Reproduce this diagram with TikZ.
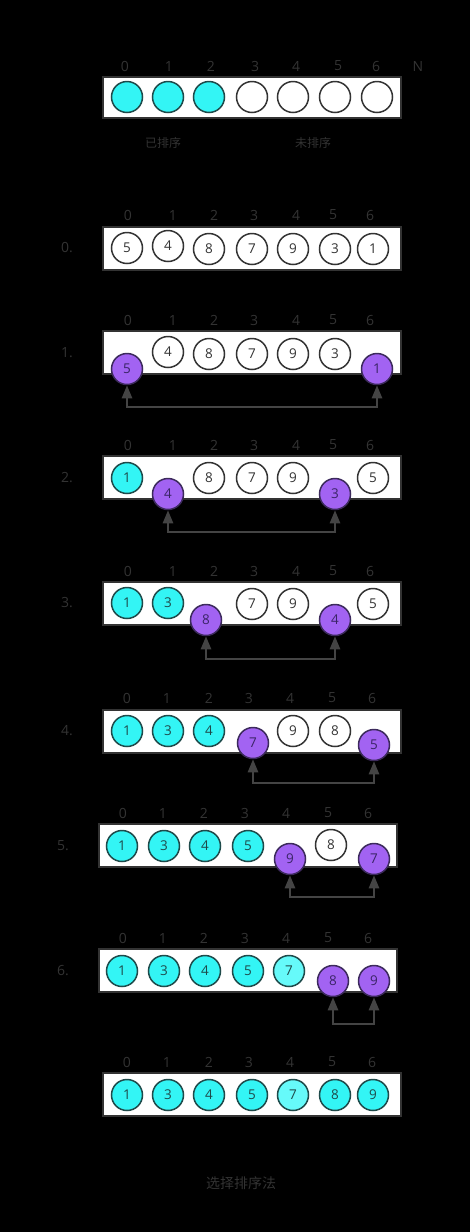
\documentclass[tikz,border=0pt]{standalone}
\usepackage{fontspec}
\setmainfont{Open Sans}
\newfontfamily\cjk{Noto Sans CJK SC}
\usetikzlibrary{arrows.meta}
\definecolor{lblgray}{HTML}{333333}
\definecolor{boxline}{HTML}{333333}
\definecolor{cyanf}{HTML}{33F5F5}
\definecolor{cyanl}{HTML}{66FAFA}
\definecolor{cyand}{HTML}{1E4A4A}
\definecolor{purf}{HTML}{A263F2}
\definecolor{purd}{HTML}{3C2A5C}
\definecolor{purt}{HTML}{3A2466}
\definecolor{arrowc}{HTML}{444444}
\tikzset{
  idx/.style={text=lblgray,font=\fontsize{14}{16}\selectfont,inner sep=0pt},
  rowlbl/.style={text=lblgray,font=\fontsize{14}{16}\selectfont,inner sep=0pt},
  arr/.style={draw=boxline,fill=white,line width=1.6pt},
  cell/.style={circle,minimum size=31pt,inner sep=0pt,line width=1.5pt,font=\fontsize{13.5}{15}\selectfont},
  cellw/.style={cell,draw=boxline,fill=white,text=lblgray},
  cellc/.style={cell,draw=cyand,fill=cyanf,text=cyand},
  celll/.style={cell,draw=cyand,fill=cyanl,text=cyand},
  cellp/.style={cell,draw=purd,fill=purf,text=purt},
  swap/.style={draw=arrowc,line width=2.4pt,{Triangle[width=10pt,length=13pt]}-{Triangle[width=10pt,length=13pt]}},
}
\begin{document}
\begin{tikzpicture}[x=1pt,y=-1pt]
\fill[black] (0,0) rectangle (470,1232);
\useasboundingbox (0,0) rectangle (470,1232);

% legend
\foreach \i/\x in {0/125,1/169,2/211,3/255,4/296,5/338,6/376} \node[idx] (lgi\i) at (\x,66) {\i};
\node[idx] (lgN) at (418,66) {N};
\draw[arr] (103,77) rectangle (401,118);
\foreach \i/\x/\s in {0/127/cellc,1/168/cellc,2/209/cellc,3/252/cellw,4/293/cellw,5/335/cellw,6/377/cellw}
  \node[\s] (lgc\i) at (\x,97) {};
\node[text=lblgray,font=\cjk\fontsize{12}{14}\selectfont] (sorted) at (163,143) {已排序};
\node[text=lblgray,font=\cjk\fontsize{12}{14}\selectfont] (unsorted) at (313,143) {未排序};

% row 0
\node[rowlbl] (rl0) at (67,248) {0.};
\foreach \i/\x in {0/128,1/173,2/214,3/254,4/296,5/333,6/370} \node[idx] (r0i\i) at (\x,215) {\i};
\draw[arr] (103,227) rectangle (401,270);
\foreach \i/\x/\y/\v/\s in {0/127/248/5/cellw,1/168/246/4/cellw,2/209/249/8/cellw,3/252/249/7/cellw,4/293/249/9/cellw,5/335/249/3/cellw,6/373/249/1/cellw}
  \node[\s] (r0c\i) at (\x,\y) {\v};

% row 1
\node[rowlbl] (rl1) at (67,353) {1.};
\foreach \i/\x in {0/128,1/173,2/214,3/254,4/296,5/333,6/370} \node[idx] (r1i\i) at (\x,320) {\i};
\draw[arr] (103,331) rectangle (401,374);
\foreach \i/\x/\y/\v/\s in {0/127/369/5/cellp,1/168/352/4/cellw,2/209/354/8/cellw,3/252/354/7/cellw,4/293/354/9/cellw,5/335/354/3/cellw,6/377/369/1/cellp}
  \node[\s] (r1c\i) at (\x,\y) {\v};
\coordinate (r1l) at (0,407);
\draw[swap] (r1c0.south) -- (r1c0.south |- r1l) -- (r1c6.south |- r1l) -- (r1c6.south);

% row 2
\node[rowlbl] (rl2) at (67,478) {2.};
\foreach \i/\x in {0/128,1/173,2/214,3/254,4/296,5/333,6/370} \node[idx] (r2i\i) at (\x,445) {\i};
\draw[arr] (103,456) rectangle (401,499);
\foreach \i/\x/\y/\v/\s in {0/127/478/1/cellc,1/168/494/4/cellp,2/209/478/8/cellw,3/252/478/7/cellw,4/293/478/9/cellw,5/335/494/3/cellp,6/373/478/5/cellw}
  \node[\s] (r2c\i) at (\x,\y) {\v};
\coordinate (r2l) at (0,532);
\draw[swap] (r2c1.south) -- (r2c1.south |- r2l) -- (r2c5.south |- r2l) -- (r2c5.south);

% row 3
\node[rowlbl] (rl3) at (67,603) {3.};
\foreach \i/\x in {0/128,1/173,2/214,3/254,4/296,5/333,6/370} \node[idx] (r3i\i) at (\x,571) {\i};
\draw[arr] (103,582) rectangle (401,625);
\foreach \i/\x/\y/\v/\s in {0/127/603/1/cellc,1/168/603/3/cellc,2/206/620/8/cellp,3/252/604/7/cellw,4/293/604/9/cellw,5/335/620/4/cellp,6/373/604/5/cellw}
  \node[\s] (r3c\i) at (\x,\y) {\v};
\coordinate (r3l) at (0,659);
\draw[swap] (r3c2.south) -- (r3c2.south |- r3l) -- (r3c5.south |- r3l) -- (r3c5.south);

% row 4
\node[rowlbl] (rl4) at (67,731) {4.};
\foreach \i/\x in {0/127,1/167,2/209,3/249,4/290,5/332,6/372} \node[idx] (r4i\i) at (\x,698) {\i};
\draw[arr] (103,710) rectangle (401,753);
\foreach \i/\x/\y/\v/\s in {0/127/731/1/cellc,1/168/731/3/cellc,2/209/731/4/cellc,3/253/743/7/cellp,4/293/731/9/cellw,5/335/731/8/cellw,6/374/745/5/cellp}
  \node[\s] (r4c\i) at (\x,\y) {\v};
\coordinate (r4l) at (0,783);
\draw[swap] (r4c3.south) -- (r4c3.south |- r4l) -- (r4c6.south |- r4l) -- (r4c6.south);

% row 5
\node[rowlbl] (rl5) at (63,846) {5.};
\foreach \i/\x in {0/123,1/163,2/204,3/245,4/286,5/328,6/368} \node[idx] (r5i\i) at (\x,813) {\i};
\draw[arr] (99,824) rectangle (397,867);
\foreach \i/\x/\y/\v/\s in {0/122/846/1/cellc,1/164/846/3/cellc,2/205/846/4/cellc,3/248/846/5/cellc,4/290/859/9/cellp,5/331/845/8/cellw,6/374/859/7/cellp}
  \node[\s] (r5c\i) at (\x,\y) {\v};
\coordinate (r5l) at (0,897);
\draw[swap] (r5c4.south) -- (r5c4.south |- r5l) -- (r5c6.south |- r5l) -- (r5c6.south);

% row 6
\node[rowlbl] (rl6) at (63,971) {6.};
\foreach \i/\x in {0/123,1/163,2/204,3/245,4/286,5/328,6/368} \node[idx] (r6i\i) at (\x,938) {\i};
\draw[arr] (99,949) rectangle (397,992);
\foreach \i/\x/\y/\v/\s in {0/122/971/1/cellc,1/164/971/3/cellc,2/205/971/4/cellc,3/248/971/5/cellc,4/289/971/7/celll,5/333/981/8/cellp,6/374/981/9/cellp}
  \node[\s] (r6c\i) at (\x,\y) {\v};
\coordinate (r6l) at (0,1024);
\draw[swap] (r6c5.south) -- (r6c5.south |- r6l) -- (r6c6.south |- r6l) -- (r6c6.south);

% final row
\foreach \i/\x in {0/127,1/167,2/209,3/249,4/290,5/332,6/372} \node[idx] (r7i\i) at (\x,1062) {\i};
\draw[arr] (103,1073) rectangle (401,1116);
\foreach \i/\x/\v/\s in {0/127/1/cellc,1/168/3/cellc,2/209/4/cellc,3/252/5/cellc,4/293/7/celll,5/335/8/cellc,6/373/9/cellc}
  \node[\s] (r7c\i) at (\x,1095) {\v};

\node[text=lblgray,font=\cjk\fontsize{14}{16}\selectfont] (caption) at (241,1183) {选择排序法};
\end{tikzpicture}
\end{document}
